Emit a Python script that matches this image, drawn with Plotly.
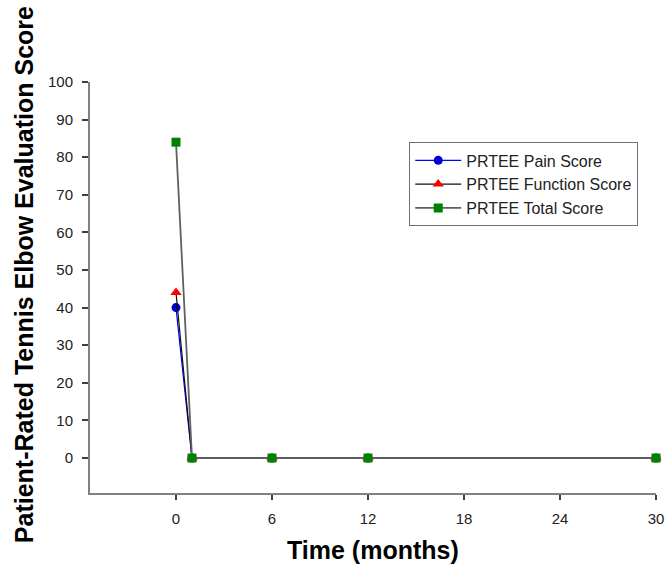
import plotly.graph_objects as go

months = [0, 1, 6, 12, 30]
pain_score = [40, 0, 0, 0, 0]
function_score = [44, 0, 0, 0, 0]
total_score = [84, 0, 0, 0, 0]
x_ticks = [0, 6, 12, 18, 24, 30]
y_ticks = [0, 10, 20, 30, 40, 50, 60, 70, 80, 90, 100]

FONT = "Liberation Sans, Arial, sans-serif"

fig = go.Figure()
fig.add_trace(go.Scatter(
    x=months, y=pain_score, mode="lines+markers", name="PRTEE Pain Score",
    line=dict(color="#0000ff", width=1.2),
    marker=dict(symbol="circle", size=9, color="#0000cc"),
    cliponaxis=False))
fig.add_trace(go.Scatter(
    x=months, y=function_score, mode="lines+markers", name="PRTEE Function Score",
    line=dict(color="#111111", width=1.2),
    marker=dict(symbol="triangle-up", size=10, color="#ff0000"),
    cliponaxis=False))
fig.add_trace(go.Scatter(
    x=months, y=total_score, mode="lines+markers", name="PRTEE Total Score",
    line=dict(color="#606060", width=1.8),
    marker=dict(symbol="square", size=9, color="#008000"),
    cliponaxis=False))

fig.update_layout(
    width=665, height=564,
    margin=dict(l=90, r=9, t=82, b=71, autoexpand=False),
    paper_bgcolor="white", plot_bgcolor="white",
    font=dict(family=FONT, color="#222222"),
    showlegend=True,
    legend=dict(
        x=0.564, y=0.853, xanchor="left", yanchor="top",
        bgcolor="white", bordercolor="#707070", borderwidth=1,
        font=dict(family=FONT, size=16, color="#222222"),
        tracegroupgap=0, itemwidth=46),
    xaxis=dict(
        range=[-5.375, 30], tickvals=x_ticks, showgrid=False, zeroline=False,
        showline=True, linecolor="#808080", linewidth=2, automargin=False,
        ticks="outside", ticklen=5, tickcolor="#404040", tickwidth=1.5,
        ticklabelstandoff=6,
        tickfont=dict(family=FONT, size=15, color="#222222")),
    yaxis=dict(
        range=[-9.3, 100], tickvals=y_ticks, showgrid=False, zeroline=False,
        showline=True, linecolor="#808080", linewidth=2, automargin=False,
        ticks="outside", ticklen=6, tickcolor="#404040", tickwidth=1.5,
        ticklabelstandoff=6,
        tickfont=dict(family=FONT, size=15, color="#222222")),
    annotations=[
        dict(text="<b>Time (months)</b>", xref="paper", yref="paper",
             x=0.5, y=0, yshift=-57, xanchor="center", yanchor="middle",
             showarrow=False, font=dict(family=FONT, size=25, color="#000000")),
        dict(text="<b>Patient-Rated Tennis Elbow Evaluation Score</b>",
             xref="paper", yref="paper", x=0, xshift=-66, y=0.53,
             xanchor="center", yanchor="middle", textangle=-90,
             showarrow=False, font=dict(family=FONT, size=25, color="#000000")),
    ],
)

fig.write_html(
    "out.html",
    config={"displayModeBar": False},
    post_script="document.body.style.margin='0';document.body.style.overflow='hidden';",
)
